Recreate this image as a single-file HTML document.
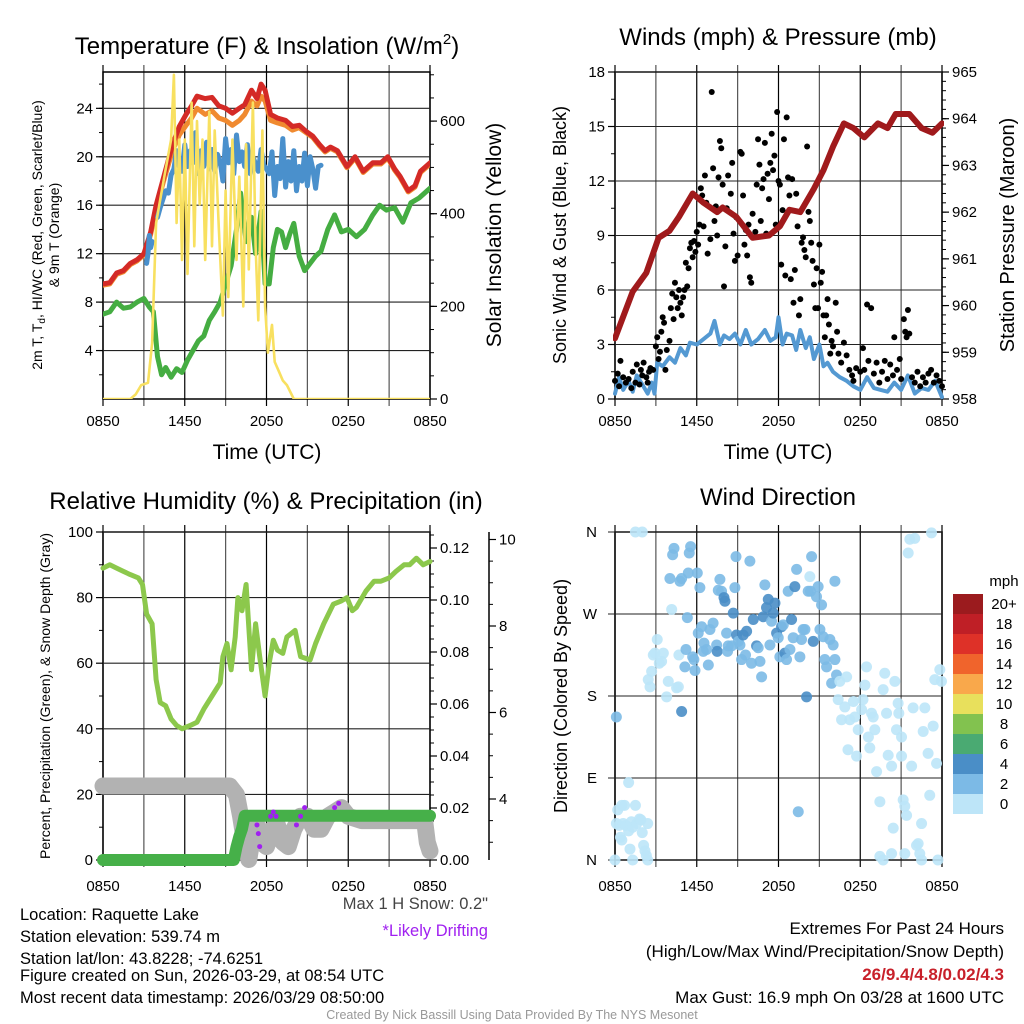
<!DOCTYPE html>
<html><head><meta charset="utf-8"><style>
html,body{margin:0;padding:0;background:#fff;}
svg{display:block;font-family:"Liberation Sans",sans-serif;}
</style></head><body>
<svg id="chart" width="1024" height="1024" viewBox="0 0 1024 1024">
<rect width="1024" height="1024" fill="#fff"/>
<g id="layer"></g>
<text x="267" y="54" font-size="24" text-anchor="middle">Temperature (F) &amp; Insolation (W/m<tspan dy="-10" font-size="15">2</tspan><tspan dy="10">)</tspan></text>
<text x="778" y="45" font-size="24" text-anchor="middle">Winds (mph) &amp; Pressure (mb)</text>
<text x="266" y="509" font-size="24" text-anchor="middle">Relative Humidity (%) &amp; Precipitation (in)</text>
<text x="778" y="505" font-size="24" text-anchor="middle">Wind Direction</text>
<text x="267" y="459" font-size="21" text-anchor="middle">Time (UTC)</text>
<text x="778" y="459" font-size="21" text-anchor="middle">Time (UTC)</text>
<text transform="translate(42,235) rotate(-90)" font-size="14" text-anchor="middle">2m T, T<tspan dy="3" font-size="10">d</tspan><tspan dy="-3">, HI/WC (Red, Green, Scarlet/Blue)</tspan></text>
<text transform="translate(59,235) rotate(-90)" font-size="14" text-anchor="middle">&amp; 9m T (Orange)</text>
<text transform="translate(501,235) rotate(-90)" font-size="21" text-anchor="middle">Solar Insolation (Yellow)</text>
<text transform="translate(566,235) rotate(-90)" font-size="18" text-anchor="middle">Sonic Wind &amp; Gust (Blue, Black)</text>
<text transform="translate(1014,235) rotate(-90)" font-size="20" text-anchor="middle">Station Pressure (Maroon)</text>
<text transform="translate(50,696) rotate(-90)" font-size="14" text-anchor="middle">Percent, Precipitation (Green), &amp; Snow Depth (Gray)</text>
<text transform="translate(567,696) rotate(-90)" font-size="18" text-anchor="middle">Direction (Colored By Speed)</text>
<text x="1004" y="586" font-size="15" text-anchor="middle">mph</text>
<g font-size="16.5">
<text x="20" y="920">Location: Raquette Lake</text>
<text x="20" y="942">Station elevation: 539.74 m</text>
<text x="20" y="964">Station lat/lon: 43.8228; -74.6251</text>
<text x="20" y="981">Figure created on Sun, 2026-03-29, at 08:54 UTC</text>
<text x="20" y="1003">Most recent data timestamp: 2026/03/29 08:50:00</text>
</g>
<text x="488" y="909" font-size="16.5" fill="#444" text-anchor="end">Max 1 H Snow: 0.2"</text>
<text x="488" y="936" font-size="16.5" fill="#a020f0" text-anchor="end">*Likely Drifting</text>
<g font-size="17" text-anchor="end">
<text x="1004" y="934">Extremes For Past 24 Hours</text>
<text x="1004" y="957">(High/Low/Max Wind/Precipitation/Snow Depth)</text>
<text x="1004" y="980" fill="#c8202a" font-weight="bold">26/9.4/4.8/0.02/4.3</text>
<text x="1004" y="1003">Max Gust: 16.9 mph On 03/28 at 1600 UTC</text>
</g>
<text x="512" y="1019" font-size="12.5" fill="#999" text-anchor="middle">Created By Nick Bassill Using Data Provided By The NYS Mesonet</text>
</svg>
<script>
// ===== data (hours since 0850 UTC, value) =====
const xTickLabels = ["0850","1450","2050","0250","0850"];
const tempHours = [0,0.5,1,1.5,2,2.5,3,3.5,3.9,4.5,5.1,5.6,6.1,6.5,6.9,7.5,8,8.5,9,9.5,10,10.4,10.9,11.3,11.6,11.9,12.3,12.8,13.4,13.9,14.4,14.9,15.4,15.9,16.3,16.7,17.2,17.9,18.5,19.1,19.8,20.4,20.9,21.4,21.8,22.4,22.9,23.3,23.7,24];
const tempValues = [9.5,9.6,10.4,10.6,11.2,11.5,12,13.8,16,18.5,21,22.5,23.5,24.2,25,24.8,24.9,24.2,24,23.6,24,24.3,25.5,24.8,26,25.5,23.5,23.2,23,22.5,22.6,22.1,21.7,21,20.5,20.8,20.5,19.2,20,18.8,19.5,19.5,20,19,18.4,17.2,17.6,18.8,19.2,19.5];
const orangeValues = [9.4,9.5,10.3,10.5,11.1,11.4,11.9,13.6,15.8,18.2,20.5,21.8,22.6,23.2,24,23.5,23.8,23.2,23,22.6,23,23.5,24.6,24.2,25,24.6,23,22.8,22.6,22.2,22.4,22,21.6,20.9,20.4,20.7,20.4,19.1,19.9,18.7,19.4,19.4,19.9,18.9,18.3,17.1,17.5,18.7,19.1,19.4];
const hiwcHours = [3.2,3.3,3.4,3.5,3.6,null,4.0,4.2,4.4,4.6,4.8,5.0,5.2,5.4,5.6,5.8,6.0,6.2,6.4,6.6,6.8,7.0,7.2,7.4,7.6,7.8,8.0,8.2,8.4,8.6,8.8,9.0,9.2,9.4,9.6,9.8,10.0,10.2,10.4,10.6,10.8,11.0,11.2,11.4,11.6,11.8,12.0,12.2,12.4,12.6,12.8,13.0,13.2,13.4,13.6,13.8,14.0,14.2,14.4,14.6,14.8,15.0,15.2,15.4,15.6,15.8,16.0];
const hiwcValues = [11.2,12,13.5,12.5,13,null,15,15.8,16.5,17.2,17,18.5,19,20.5,19.2,18.8,21,19.2,20.5,19.5,22,18.6,20.5,19.2,21.2,19,20.6,18.8,20.2,19.6,18,21.5,19.5,20.6,18.6,21.8,19.6,20.4,19.2,21,18.6,20,19.4,18.8,20.6,19.3,19,18.6,20.4,16.8,19.2,18.2,21.5,17.5,19.6,18,20.5,17.2,19.2,18,20.3,17.6,20,19,17.4,19.2,19.3];
const dewHours = [0,0.5,1,1.5,2,2.5,3,3.4,3.7,4,4.3,4.6,5,5.4,5.8,6.2,6.6,7,7.4,7.8,8.2,8.6,9,9.4,9.8,10.1,10.5,10.9,11.2,11.6,11.9,12.2,12.5,12.8,13.1,13.4,13.7,14,14.4,14.8,15.2,15.6,16,16.5,17,17.5,18,18.6,19.2,19.8,20.3,20.8,21.4,22,22.6,23.2,24];
const dewValues = [7,7.2,8,7.5,7.6,8,8.3,7.6,7.2,3.5,2,2.6,1.8,2.5,2.2,3.2,4,4.8,5.2,6.5,7.2,8,9.5,11,14,17,13,15,12,15.5,9.5,9.5,12.5,14,13.8,12.5,13.6,14.5,11.8,10.6,11.2,11.8,12.2,14,15.2,13.8,14,13.4,14,15.2,16,15.6,15.8,14.6,16.2,16.6,17.4];
const solarHours = [0,2,2.4,2.8,3.3,3.6,3.9,4.5,5,5.2,5.4,5.6,5.8,6,6.2,6.5,6.7,6.9,7.1,7.3,7.5,7.8,8,8.2,8.5,8.8,9,9.2,9.5,9.8,10,10.3,10.5,10.7,11,11.2,11.4,11.7,11.9,12.1,12.4,12.6,12.9,13.2,13.5,14,24];
const solarValues = [0,0,10,30,35,120,380,480,560,700,380,560,300,560,270,640,330,600,420,560,300,620,330,580,370,180,450,220,560,300,480,200,550,280,640,330,170,580,200,100,160,80,60,40,30,0,0];

const presHours = [0,1.3,2.3,3.2,4.0,4.7,5.7,6.5,7.5,7.9,8.9,10.1,11.3,12.1,12.8,13.6,14.6,15.3,16.0,16.8,17.5,18.3,19.3,20,20.6,21.6,22.5,23.3,24];
const presValues = [959.3,960.3,960.7,961.45,961.6,961.9,962.4,962.2,962.0,962.1,961.9,961.45,961.5,961.7,962.05,962.0,962.5,962.9,963.4,963.9,963.8,963.6,963.9,963.8,964.1,964.1,963.8,963.7,963.9];
const windHours = [0,0.3,0.6,1,1.3,1.6,2,2.4,2.7,2.9,3.1,3.5,4,4.4,4.8,5.2,5.5,6,6.5,7,7.3,7.7,8,8.4,8.8,9.2,9.6,10,10.5,11,11.4,11.8,12,12.3,12.6,13,13.3,13.6,14,14.3,14.6,15,15.3,15.6,16,16.5,17,17.5,18,18.5,19,19.5,20,20.5,21,21.5,22,22.5,23,23.5,24];
const windValues = [0.3,1.2,0.5,1.0,0.4,1.3,0.8,0.3,0.9,0.3,2,1.8,2.3,2.0,2.8,2.4,3.1,3.0,3.3,3.6,4.3,3.0,3.5,3.3,3.6,3.0,3.8,3.0,3.3,3.8,3.2,3.4,4.5,3.0,3.6,3.5,2.7,3.8,2.8,3.4,2.2,3.0,1.8,2.0,1.5,1.2,1.0,0.7,0.5,1.2,0.6,0.5,0.4,0.9,0.5,1.3,0.3,0.6,0.5,1.0,0.1];
const gustHours = [0,0.2,0.3,0.4,0.6,0.8,1,1.2,1.3,1.5,1.6,1.8,1.9,2,2.1,2.3,2.4,2.5,2.6,2.8,3,3.1,3.2,3.3,3.4,3.5,3.6,3.7,3.8,4,4.1,4.2,4.3,4.4,4.5,4.6,4.7,4.8,4.9,5,5.1,5.2,5.3,5.4,5.5,5.6,5.7,5.8,5.9,6,6.1,6.2,6.3,6.4,6.5,6.6,6.7,6.8,7,7.1,7.2,7.3,7.4,7.5,7.6,7.7,7.8,7.9,8,8.1,8.2,8.3,8.5,8.6,8.7,8.8,8.9,9,9.2,9.3,9.4,9.5,9.6,9.7,9.8,9.9,10,10.1,10.3,10.4,10.5,10.6,10.7,10.8,10.9,11,11.1,11.2,11.3,11.4,11.5,11.6,11.7,11.8,11.9,12,12.1,12.2,12.3,12.4,12.5,12.6,12.7,12.8,12.9,13,13.1,13.2,13.3,13.4,13.5,13.6,13.7,13.8,13.9,14,14.1,14.2,14.3,14.4,14.5,14.6,14.7,14.8,14.9,15,15.1,15.2,15.3,15.4,15.5,15.6,15.7,15.8,15.9,16,16.2,16.3,16.4,16.6,16.8,17,17.2,17.4,17.5,17.7,18,18.2,18.3,18.5,18.6,18.8,19,19.2,19.4,19.6,19.8,20,20.2,20.4,20.5,20.7,20.9,21,21.2,21.3,21.4,21.5,21.6,21.8,22,22.2,22.4,22.6,22.8,23,23.2,23.4,23.6,23.8,24];
const gustValues = [1.0,1.4,0.7,2.1,1.2,0.9,1.1,0.6,1.5,0.9,1.9,0.8,1.6,1.3,2.0,1.2,0.9,1.5,1.7,1.6,2.9,3.4,2.2,2.6,3.7,4.5,4.2,1.6,2.7,3.2,5.0,5.8,4.4,6.4,5.6,5.0,6.0,5.3,4.6,5.6,6.0,7.5,6.2,7.2,8.3,8.6,7.8,8.7,8.1,9.2,8.5,9.6,11.6,11.2,9.5,12.3,10.8,8.0,8.8,16.9,12.7,9.8,10.6,9.0,12.2,14.2,13.8,11.8,6.2,8.4,10.5,12.3,11.3,13.0,9.1,7.6,10.0,7.9,13.6,13.5,11.2,8.5,9.3,7.9,9.6,6.7,6.4,10.2,9.2,11.8,14.3,12.9,9.8,11.6,12.1,14.1,9.1,12.4,11.0,13.0,14.6,12.6,13.4,9.6,15.8,12.0,11.8,7.4,10.4,14.3,6.8,15.5,12.2,11.2,6.6,12.1,5.3,7.1,11.3,9.5,4.6,5.5,8.6,8.9,8.2,7.8,13.9,10.3,9.8,8.6,7.6,6.3,5.0,7.2,5.0,8.5,6.4,7.0,4.6,3.4,4.6,5.5,4.1,2.5,3.2,2.9,5.3,3.7,2.5,2.0,3.1,2.4,1.6,1.3,1.0,1.7,1.5,2.8,1.6,5.2,2.1,5.0,1.4,2.0,0.9,1.5,2.1,1.1,1.9,1.3,3.4,1.6,2.2,1.1,4.4,3.7,3.4,4.9,3.6,1.2,0.9,1.5,0.7,1.2,0.9,1.4,1.6,0.9,1.3,1.0,0.7];

const rhHours = [0,0.5,1,1.5,2,2.6,2.9,3.2,3.6,3.9,4.2,4.6,5.0,5.4,5.8,6.4,6.9,7.4,8.0,8.6,8.8,9.1,9.4,9.7,9.9,10.2,10.5,10.9,11.2,11.5,11.9,12.2,12.5,12.8,13.2,13.5,14.1,14.5,15.2,15.6,16.2,16.9,17.5,17.9,18.3,18.6,19.3,19.9,20.4,21.0,21.5,22.1,22.5,23,23.5,24];
const rhValues = [89,90,89,88,87,86,84,75,72,55,48,47,43,41,40,41,42,46,50,54,62,66,58,68,80,76,84,58,72,62,50,60,67,64,63,68,70,62,61,66,72,78,79,80,76,77,82,85,85,86,88,90,90,92,90,91];
const snowHours = [0,2,4,6,8,9.3,9.8,10.1,10.4,10.7,11,11.3,11.6,12,12.4,12.8,13.2,13.6,14,14.5,15,15.5,16,16.5,17,17.5,18,19,20,21,22,23,23.6,23.8,24];
const snowValues = [4.3,4.3,4.3,4.3,4.3,4.3,4.1,3.6,3.0,2.6,3.2,3.4,3.0,2.9,3.3,3.4,3.0,2.9,3.3,3.6,3.6,3.3,3.3,3.6,3.7,3.8,3.6,3.5,3.5,3.5,3.5,3.5,3.5,3.0,2.8];
const precipHours = [0,9.6,9.8,10.0,10.2,10.4,24];
const precipValues = [0,0,0.005,0.009,0.012,0.017,0.017];
const driftHours = [11.3,11.4,11.5,12.3,12.5,12.7,14.2,14.5,14.8,17.0,17.3];
const driftValues = [3.4,3.2,2.9,3.6,3.7,3.6,3.4,3.6,3.8,3.8,3.9];

const dirHours = [0,0.1,0.2,0.3,0.4,0.5,0.6,0.7,0.8,1.0,1.1,1.2,1.3,1.5,1.6,1.8,1.9,2.0,2.1,2.2,2.3,2.4,1.0,0.5,1.3,2.4,0.1,1.5,2.0,
2.44,2.57,2.69,2.81,2.93,3.1,3.25,3.42,3.55,3.79,3.91,4.03,4.16,4.23,4.33,4.52,4.65,4.69,4.77,4.89,4.89,5.13,5.21,5.31,5.38,5.45,5.55,5.7,5.79,5.87,6.04,6.11,6.23,6.36,6.48,6.53,
6.72,6.85,6.97,7.2,7.46,7.5,7.58,7.7,7.82,8.0,8.07,8.19,8.26,8.31,8.56,8.68,8.8,8.88,8.92,9.05,9.17,9.29,9.41,9.58,9.66,9.9,10.02,10.15,10.39,10.51,10.64,10.76,10.88,11.0,11.12,11.25,11.37,11.49,11.61,11.74,11.86,11.98,12.1,12.22,12.35,12.47,12.59,12.71,12.84,12.96,13.08,13.2,13.33,13.45,13.57,13.69,13.81,13.94,14.06,14.18,14.3,14.35,14.43,14.55,14.79,14.91,15.04,15.16,15.28,15.4,15.53,15.77,16.01,16.14,16.14,
15.9,16.26,16.38,16.5,16.63,16.87,17.0,17.1,17.24,17.5,17.6,17.73,17.85,18.1,18.2,18.34,18.46,18.6,18.7,18.83,18.95,19.07,19.2,19.44,19.68,19.8,19.93,20.05,20.3,20.42,20.54,20.66,20.78,20.83,21.03,21.03,21.15,21.27,21.4,21.52,21.64,21.88,22.0,22.13,22.25,22.37,22.5,22.62,22.74,22.98,23.1,23.23,23.35,23.47,23.6,23.84,23.96,19.44,19.68,20.3,21.27,22.5,23.7,21.77];
const dirDegrees = [0,40,55,38,25,22,40,60,38,32,12,42,36,60,40,45,44,30,16,10,5,40,85,60,0,0,157,360,360,
198,190,207,225,227,242,216,218,227,179,196,309,275,335,342,189,190,225,306,309,163,212,231,266,315,337,344,223,220,208,315,249,299,256,229,238,
231,214,253,260,236,229,296,308,295,288,284,249,229,235,235,271,299,333,247,240,236,220,247,225,251,328,216,264,235,233,218,201,267,302,277,286,236,262,271,282,249,244,223,256,258,227,220,295,231,264,244,300,319,53,223,242,253,253,179,295,311,295,333,240,289,300,253,280,245,220,212,242,236,306,220,
194,203,176,196,154,168,201,121,154,174,157,114,143,165,176,192,212,135,123,161,157,143,97,64,187,205,161,115,103,35,196,143,172,161,135,114,66,59,49,337,352,167,353,16,18,7,40,141,167,117,71,359,147,198,106,209,196,4,0,7,7,0,0,103];
const dirSpeeds = [1,1,1,1,0.5,1,1,1,0.5,0.5,0.5,1,0.5,1,1,1,1,0.5,0.5,1,0.5,1,1,1,0.5,0.5,2.5,1,1,
1,1,1,1,1,1.5,1,1.5,1,1,1.5,3,1.5,3,3,1,1,1.5,3,3,4.5,3,3,3,3,3,3,2.5,3,3,3,3,3,3,3,3,
3,3.5,3,3,3.5,4.5,3,3,3,4.5,4.5,3,3,3,3.5,4.5,3,3,4.5,3,3.5,3,4.5,3,4,3,3,4.5,4.5,3,3,3,4.5,3,4,4.5,3,3,4.5,4.5,4.5,3,3,4.5,3,4.5,3,3,3,4.5,3,4.5,3,3,3,3,3,3,4.5,3,1,3,3,4.5,3,3,3,3,3,3,3,3,3,3,3,3,3,
1,1,1,1,1,1,1,1,1,1,1,1,1,1,1,1,1,1,1,1,1,1,1,1,1,1,1,1,1,1,1,1,1,1,1,1,1,1,1,1,1,1,1,1,1,1,1,1,1,1,1,1,1,1,1,1,1,1,1,1,1,1,1,1,5];
const legendLabels = ["20+","18","16","14","12","10","8","6","4","2","0"];
const legendColors = ["#9b1b1e","#bf1f26","#de3128","#f0642c","#f9a84b","#e8e05c","#82c24f","#4aaa72","#4a8ec7","#7cbae6","#bde5f8"];

// ===== helpers =====
const NS = "http://www.w3.org/2000/svg";
const layer = document.getElementById("layer");
function mk(tag, attrs, parent) {
  const e = document.createElementNS(NS, tag);
  for (const k in attrs) e.setAttribute(k, attrs[k]);
  (parent || layer).appendChild(e);
  return e;
}
function lin(d0, d1, r0, r1) { return v => r0 + (v - d0) / (d1 - d0) * (r1 - r0); }
function pathFrom(xs, ys, fx, fy) {
  let d = "", pen = false;
  for (let i = 0; i < xs.length; i++) {
    if (xs[i] === null || ys[i] === null) { pen = false; continue; }
    d += (pen ? "L" : "M") + fx(xs[i]).toFixed(1) + "," + fy(ys[i]).toFixed(1);
    pen = true;
  }
  return d;
}
function drawLine(xs, ys, fx, fy, color, w, name, clip) {
  const p = mk("path", {d: pathFrom(xs, ys, fx, fy), fill: "none", stroke: color, "stroke-width": w, "stroke-linejoin": "round", "stroke-linecap": "round"});
  if (clip) p.setAttribute("clip-path", clip);
  
  
  return p;
}
function txt(x, y, s, anchor, size, name) {
  const t = mk("text", {x: x, y: y, "text-anchor": anchor, "font-size": size});
  t.textContent = s;
  
  
  return t;
}
function frame(x0, x1, y0, y1, name) {
  const g = mk("g", {});
  
  
  const fx = lin(0, 24, x0, x1);
  for (let h = 0; h <= 24; h += 3) {
    const x = fx(h);
    mk("line", {x1: x, x2: x, y1: y0 - 7, y2: y1 + 7, stroke: h % 6 === 0 ? "#000" : "#555", "stroke-width": 1.2}, g);
  }
  mk("rect", {x: x0, y: y0, width: x1 - x0, height: y1 - y0, fill: "none", stroke: "#000", "stroke-width": 1.5}, g);
  return {fx: fx, g: g};
}
function xLabels(fx, y, nm) {
  xTickLabels.forEach((s, i) => txt(fx(i * 6), y, s, "middle", 15, nm + "-x-tick"));
}
function yAxis(x, fy, majors, minors, side, fmt, nm, grid, x1) {
  const dir = side === "left" ? -1 : 1;
  minors.forEach(v => mk("line", {x1: x, x2: x + dir * 4, y1: fy(v), y2: fy(v), stroke: "#000", "stroke-width": 1}));
  majors.forEach(v => {
    const y = fy(v);
    mk("line", {x1: x, x2: x + dir * 7, y1: y, y2: y, stroke: "#000", "stroke-width": 1.2});
    if (grid) mk("line", {x1: Math.min(x, x1), x2: Math.max(x, x1), y1: y, y2: y, stroke: "#222", "stroke-width": 1.1});
    txt(x + dir * 10, y + 5, fmt(v), side === "left" ? "end" : "start", 15, nm);
  });
}
function range(a, b, s) { const r = []; for (let v = a; v <= b + 1e-9; v += s) r.push(+v.toFixed(4)); return r; }
const defs = mk("defs", {});
function clip(id, x, y, w, h) { const c = mk("clipPath", {id: id}, defs); mk("rect", {x: x, y: y, width: w, height: h}, c); return "url(#" + id + ")"; }

// ===== Panel 1: temperature =====
{
  const {fx} = frame(103, 430, 72, 399, "temperature-plot-area");
  const fy = lin(0, 27, 399, 72);
  const fs = lin(0, 706, 399, 72);
  yAxis(103, fy, [4, 8, 12, 16, 20, 24], range(2, 26, 2), "left", v => v, "temperature-y-tick", true, 430);
  yAxis(430, fs, [0, 200, 400, 600], range(50, 700, 50), "right", v => v, "insolation-y-tick", false);
  xLabels(fx, 426, "temperature");
  const c = clip("c1", 103, 72, 327, 327);
  drawLine(tempHours, orangeValues, fx, fy, "#f08a30", 5, "temp-9m-line", c);
  drawLine(tempHours, tempValues, fx, fy, "#d42a26", 5, "temp-2m-line", c);
  drawLine(hiwcHours, hiwcValues, fx, fy, "#4a90cc", 5, "heat-index-windchill-line", c);
  drawLine(dewHours, dewValues, fx, fy, "#45ad42", 5, "dewpoint-line", c);
  drawLine(solarHours, solarValues, fx, fs, "#f8e060", 2.6, "solar-insolation-line", c);
}
// ===== Panel 2: winds & pressure =====
{
  const {fx} = frame(615, 942, 72, 399, "wind-plot-area");
  const fy = lin(0, 18, 399, 72);
  const fp = lin(958, 965, 399, 72);
  yAxis(615, fy, range(0, 18, 3), range(1.5, 16.5, 3), "left", v => v, "wind-y-tick", true, 942);
  yAxis(942, fp, range(958, 965, 1), range(958.2, 964.8, 0.2), "right", v => v, "pressure-y-tick", false);
  xLabels(fx, 426, "wind");
  const c = clip("c2", 613, 72, 331, 329);
  drawLine(windHours, windValues, fx, fy, "#5499d2", 4, "sonic-wind-line", c);
  gustHours.forEach((h, i) => {
    const d = mk("circle", {cx: fx(h), cy: fy(gustValues[i]), r: 3, fill: "#000"});
    
    
  });
  drawLine(presHours, presValues, fx, fp, "#a01a1c", 6, "pressure-line", c);
}
// ===== Panel 3: RH & precip =====
{
  const {fx} = frame(103, 430, 532, 860, "humidity-plot-area");
  const fy = lin(0, 100, 860, 532);
  const fpr = lin(0, 0.02, 860, 808);
  const fsn = lin(0, 2, 972, 885.5);
  yAxis(103, fy, range(0, 100, 20), range(10, 90, 20), "left", v => v, "humidity-y-tick", true, 430);
  yAxis(430, fpr, range(0, 0.12, 0.02), range(0.005, 0.125, 0.005), "right", v => v.toFixed(2), "precip-y-tick", false);
  mk("line", {x1: 489, x2: 489, y1: 532, y2: 860, stroke: "#000", "stroke-width": 1.5});
  yAxis(489, fsn, [4, 6, 8, 10], range(3, 10, 0.5), "right", v => v, "snow-y-tick", false);
  xLabels(fx, 891, "humidity");
  drawLine(rhHours, rhValues, fx, fy, "#8cc84c", 5, "relative-humidity-line");
  drawLine(snowHours, snowValues, fx, fsn, "#b2b2b2", 17, "snow-depth-line");
  drawLine(precipHours, precipValues, fx, fpr, "#46b049", 12, "precipitation-line");
  driftHours.forEach((h, i) => {
    const d = mk("circle", {cx: fx(h), cy: fsn(driftValues[i]), r: 2.5, fill: "#a020f0"});
    
    
  });
}
// ===== Panel 4: wind direction =====
{
  const {fx} = frame(615, 942, 532, 860, "direction-plot-area");
  const fd = lin(0, 360, 860, 532);
  const dirLabels = ["N", "E", "S", "W", "N"];
  [0, 90, 180, 270, 360].forEach((v, i) => {
    mk("line", {x1: 608, x2: 942, y1: fd(v), y2: fd(v), stroke: "#222", "stroke-width": 1.1});
    txt(597, fd(v) + 5, dirLabels[i], "end", 15, "direction-y-tick");
  });
  xLabels(fx, 891, "direction");
  function col(s) { const bin = Math.min(10, Math.floor(s / 2)); return legendColors[10 - bin]; }
  dirHours.forEach((h, i) => {
    const d = mk("circle", {cx: fx(h), cy: fd(dirDegrees[i]), r: 5.5, fill: col(dirSpeeds[i]), "fill-opacity": 0.9});
    
    
  });
  legendLabels.forEach((s, i) => {
    const r = mk("rect", {x: 953, y: 594 + i * 20, width: 30, height: 20, fill: legendColors[i]});
    
    
    txt(1004, 609 + i * 20, s, "middle", 15, "legend-label");
  });
}
</script>
</body></html>
